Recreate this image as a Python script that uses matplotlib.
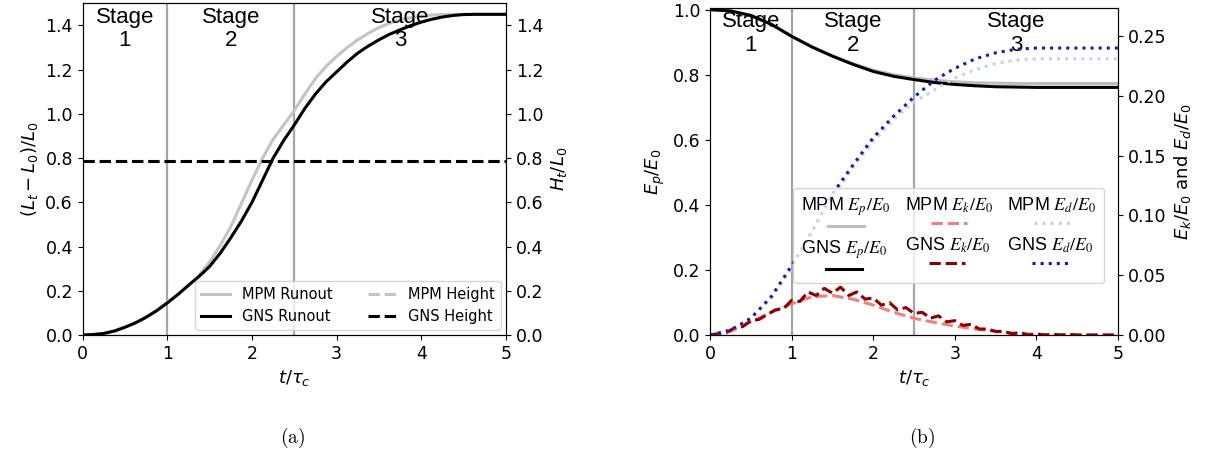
import matplotlib
matplotlib.use('Agg')
from matplotlib import pyplot as plt
from matplotlib.font_manager import FontProperties
from matplotlib.offsetbox import VPacker

#--------------------------------------------------------60
# Data

# (a) runout, t/tau_c in steps of 0.125
t_run = [0.0, 0.125, 0.25, 0.375, 0.5, 0.625, 0.75, 0.875, 1.0,
         1.125, 1.25, 1.375, 1.5, 1.625, 1.75, 1.875, 2.0,
         2.125, 2.25, 2.375, 2.5, 2.625, 2.75, 2.875, 3.0,
         3.125, 3.25, 3.375, 3.5, 3.625, 3.75, 3.875, 4.0,
         4.125, 4.25, 4.375, 4.5, 4.625, 4.75, 4.875, 5.0]
runout_mpm = [0.0, 0.002, 0.007, 0.018, 0.036, 0.057, 0.082, 0.112, 0.148,
              0.185, 0.222, 0.27, 0.33, 0.405, 0.49, 0.595, 0.70,
              0.80, 0.885, 0.95, 1.015, 1.09, 1.16, 1.215, 1.26,
              1.30, 1.335, 1.365, 1.39, 1.41, 1.425, 1.435, 1.442,
              1.447, 1.449, 1.45, 1.45, 1.45, 1.45, 1.45, 1.45]
runout_gns = [0.0, 0.002, 0.007, 0.018, 0.035, 0.055, 0.08, 0.11, 0.145,
              0.183, 0.225, 0.265, 0.31, 0.37, 0.44, 0.515, 0.60,
              0.70, 0.80, 0.88, 0.95, 1.025, 1.09, 1.145, 1.19,
              1.235, 1.275, 1.307, 1.335, 1.36, 1.38, 1.399, 1.415,
              1.428, 1.438, 1.445, 1.449, 1.45, 1.45, 1.45, 1.45]

# (a) height, and (b) energies, t/tau_c in steps of 0.25
t_b = [0.0, 0.25, 0.5, 0.75, 1.0, 1.25, 1.5, 1.75, 2.0, 2.25, 2.5,
       2.75, 3.0, 3.25, 3.5, 3.75, 4.0, 4.25, 4.5, 4.75, 5.0]
height_mpm = [0.788, 0.788, 0.788, 0.788, 0.788, 0.788, 0.788, 0.788,
              0.788, 0.788, 0.788, 0.788, 0.788, 0.788, 0.788, 0.788,
              0.788, 0.788, 0.788, 0.788, 0.788]
height_gns = [0.788, 0.788, 0.788, 0.788, 0.788, 0.788, 0.788, 0.788,
              0.788, 0.788, 0.788, 0.788, 0.788, 0.788, 0.788, 0.788,
              0.788, 0.788, 0.788, 0.788, 0.788]
ep_mpm = [1.0, 0.996, 0.982, 0.955, 0.918, 0.886, 0.858, 0.834, 0.814,
          0.80, 0.79, 0.783, 0.778, 0.775, 0.774, 0.773, 0.773, 0.773,
          0.773, 0.773, 0.773]
ep_gns = [1.0, 0.996, 0.982, 0.955, 0.918, 0.885, 0.857, 0.832, 0.81,
          0.795, 0.785, 0.776, 0.77, 0.766, 0.763, 0.762, 0.761, 0.761,
          0.761, 0.761, 0.761]
ek_mpm = [0.0, 0.003, 0.011, 0.019, 0.026, 0.032, 0.033, 0.030, 0.025,
          0.019, 0.014, 0.0105, 0.0075, 0.005, 0.003, 0.0015, 0.0005,
          0.0002, 0.0, 0.0, 0.0]
ed_mpm = [0.0, 0.004, 0.014, 0.031, 0.056, 0.085, 0.115, 0.14, 0.162,
          0.18, 0.195, 0.205, 0.215, 0.222, 0.227, 0.23, 0.231, 0.231,
          0.231, 0.231, 0.231]
ed_gns = [0.0, 0.004, 0.014, 0.032, 0.058, 0.087, 0.118, 0.142, 0.165,
          0.183, 0.199, 0.213, 0.223, 0.231, 0.236, 0.239, 0.24, 0.24,
          0.24, 0.24, 0.24]

# GNS kinetic energy is noisy: steps of 0.1
t_ek = [0.0, 0.1, 0.2, 0.3, 0.4, 0.5, 0.6, 0.7, 0.8, 0.9, 1.0,
        1.1, 1.2, 1.3, 1.4, 1.5, 1.6, 1.7, 1.8, 1.9, 2.0,
        2.1, 2.2, 2.3, 2.4, 2.5, 2.6, 2.7, 2.8, 2.9, 3.0,
        3.1, 3.2, 3.3, 3.4, 3.5, 3.6, 3.7, 3.8, 3.9, 4.0,
        4.1, 4.2, 4.3, 4.4, 4.5, 4.6, 4.7, 4.8, 4.9, 5.0]
ek_gns = [0.0, 0.001, 0.002, 0.006, 0.007, 0.012, 0.013, 0.017, 0.021, 0.022, 0.029,
          0.028, 0.036, 0.033, 0.039, 0.035, 0.040, 0.033, 0.036, 0.030, 0.031,
          0.025, 0.027, 0.021, 0.023, 0.018, 0.019, 0.014, 0.016, 0.011, 0.012,
          0.008, 0.009, 0.005, 0.005, 0.003, 0.003, 0.001, 0.002, 0.000, 0.001,
          0.0, 0.0005, 0.0, 0.0005, 0.0, 0.0, 0.0, 0.0, 0.0, 0.0]

stage_bounds = [1.0, 2.5]
stage_x = [0.5, 1.75, 3.75]
stage_labels = ['Stage\n1', 'Stage\n2', 'Stage\n3']

#--------------------------------------------------------60

tick_fs = 12.5
label_fs = 13
stage_font = FontProperties(family='Liberation Sans', size=16)

fig = plt.figure(figsize=(12.1, 4.62), dpi=100)
ax1 = fig.add_axes([0.0683, 0.2749, 0.3499, 0.718])
ax2 = fig.add_axes([0.5868, 0.2749, 0.3372, 0.7078])


def add_stages(ax):
    for xb in stage_bounds:
        ax.axvline(xb, color='#a6a6a6', lw=1.6, zorder=1)
    for xs, lab in zip(stage_x, stage_labels):
        ax.text(xs, 0.99, lab, transform=ax.get_xaxis_transform(),
                ha='center', va='top', fontproperties=stage_font,
                linespacing=1.15, zorder=5)


#-------------------------------------
# (a) runout and height

ax1t = ax1.twinx()
add_stages(ax1)
l1, = ax1.plot(t_run, runout_mpm, color='#c4c4c4', lw=2.2, label='MPM Runout')
l2, = ax1.plot(t_run, runout_gns, color='black', lw=2.2, label='GNS Runout')
l3, = ax1t.plot(t_b, height_mpm, color='#c4c4c4', lw=2.2, ls='--',
                label='MPM Height')
l4, = ax1t.plot(t_b, height_gns, color='black', lw=2.2, ls='--',
                label='GNS Height')

for a in (ax1, ax1t):
    a.set_xlim(0, 5)
    a.set_ylim(0, 1.5)
    a.tick_params(labelsize=tick_fs)
ax1.set_xlabel(r'$t/\tau_c$', fontsize=label_fs)
ax1.set_ylabel(r'$(L_t-L_0)/L_0$', fontsize=label_fs)
ax1t.set_ylabel(r'$H_t/L_0$', fontsize=label_fs)
ax1t.legend(handles=[l1, l2, l3, l4], ncol=2, loc='lower right',
            fontsize=10.5, columnspacing=2.4, borderaxespad=0.35)

#-------------------------------------
# (b) energy evolution

ax2t = ax2.twinx()
add_stages(ax2)
e1, = ax2.plot(t_b, ep_mpm, color='#bdbdbd', lw=2.2, label=r'MPM $E_p/E_0$')
e2, = ax2.plot(t_b, ep_gns, color='black', lw=2.2, label=r'GNS $E_p/E_0$')
e3, = ax2t.plot(t_b, ek_mpm, color='#f08080', lw=2.2, ls='--',
                label=r'MPM $E_k/E_0$')
e4, = ax2t.plot(t_ek, ek_gns, color='#8b0000', lw=2.2, ls='--',
                label=r'GNS $E_k/E_0$')
e5, = ax2t.plot(t_b, ed_mpm, color='#c3d3ee', lw=2.2, ls=':',
                label=r'MPM $E_d/E_0$')
e6, = ax2t.plot(t_b, ed_gns, color='#1a1aa8', lw=2.2, ls=':',
                label=r'GNS $E_d/E_0$')

ax2.set_xlim(0, 5)
ax2t.set_xlim(0, 5)
ax2.set_ylim(0, 1.005)
ax2t.set_ylim(0, 0.2735)
ax2t.set_yticks([0.0, 0.05, 0.10, 0.15, 0.20, 0.25])
for a in (ax2, ax2t):
    a.tick_params(labelsize=tick_fs)
ax2.set_xlabel(r'$t/\tau_c$', fontsize=label_fs)
ax2.set_ylabel(r'$E_p/E_0$', fontsize=label_fs)
ax2t.set_ylabel(r'$E_k/E_0$ and $E_d/E_0$', fontsize=label_fs)

leg_font = FontProperties(family='Liberation Sans', size=13,
                          math_fontfamily='stix')
leg = ax2t.legend(handles=[e1, e2, e3, e4, e5, e6], ncol=3, loc='center',
                  bbox_to_anchor=(0.585, 0.304), prop=leg_font,
                  handlelength=2.0, columnspacing=0.8, labelspacing=0.35,
                  borderpad=0.45)

# put each handle below its label
for column in leg._legend_handle_box.get_children():
    stacked = []
    for row in column.get_children():
        handle_area, text_area = row.get_children()
        stacked.append(VPacker(children=[text_area, handle_area],
                               align='center', pad=0, sep=1))
    column._children = stacked

#-------------------------------------
# captions

cap_font = FontProperties(family='DejaVu Serif', size=14, math_fontfamily='cm')
fig.text(0.242, 0.052, r'$\mathrm{(a)}$', ha='center', va='center',
         fontproperties=cap_font)
fig.text(0.762, 0.052, r'$\mathrm{(b)}$', ha='center', va='center',
         fontproperties=cap_font)

fig.savefig('out.png', dpi=100)
